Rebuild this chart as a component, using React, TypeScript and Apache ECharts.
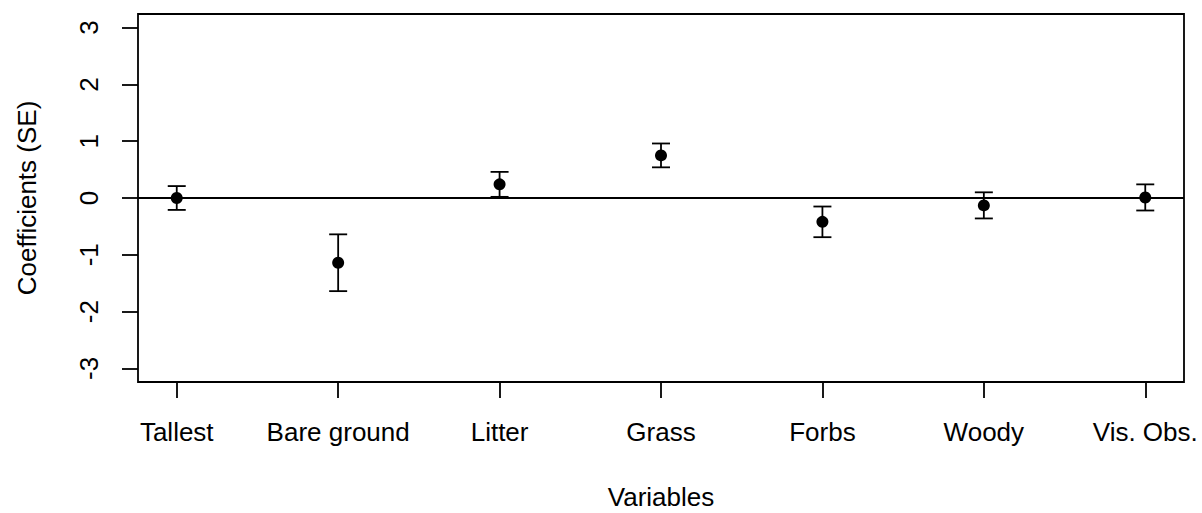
import React, { useEffect, useRef } from "react";
import * as echarts from "echarts";

// Model terms, their coefficient estimates and standard errors
const categories: string[] = ["Tallest", "Bare ground", "Litter", "Grass", "Forbs", "Woody", "Vis. Obs."];
const estimates: number[] = [0, -1.14, 0.24, 0.75, -0.42, -0.13, 0.01];
const standardErrors: number[] = [0.21, 0.5, 0.22, 0.21, 0.27, 0.23, 0.23];
const yTicks: number[] = [-3, -2, -1, 0, 1, 2, 3];

const FONT = "'Liberation Sans', Arial, sans-serif";
const LINE_W = 1.8;

export default function App() {
  const ref = useRef<HTMLDivElement>(null);

  useEffect(() => {
    if (!ref.current) return;
    const chart = echarts.init(ref.current, undefined, { renderer: "svg" });

    const positions = categories.map((_, i) => i + 1);
    const pointData = positions.map((x, i) => [x, estimates[i]]);
    const barData = positions.map((x, i) => [x, estimates[i] - standardErrors[i], estimates[i] + standardErrors[i]]);

    chart.setOption({
      animation: false,
      backgroundColor: "#ffffff",
      grid: {
        left: 138,
        right: 18,
        top: 14,
        bottom: 131,
        show: true,
        borderColor: "#000",
        borderWidth: LINE_W,
        backgroundColor: "transparent",
      },
      xAxis: {
        type: "value",
        min: 0.76,
        max: 7.24,
        splitLine: { show: false },
        axisLine: { show: false, onZero: false },
        axisTick: {
          show: true,
          customValues: positions,
          length: 16,
          lineStyle: { color: "#000", width: LINE_W },
        },
        axisLabel: {
          show: true,
          customValues: positions,
          margin: 37,
          fontSize: 26,
          fontFamily: FONT,
          color: "#000",
          formatter: (v: number) => categories[Math.round(v) - 1] ?? "",
        },
      },
      yAxis: {
        type: "value",
        min: -3.24,
        max: 3.24,
        splitLine: { show: false },
        axisLine: { show: false, onZero: false },
        axisTick: {
          show: true,
          customValues: yTicks,
          length: 16,
          lineStyle: { color: "#000", width: LINE_W },
        },
        axisLabel: {
          show: true,
          customValues: yTicks,
          rotate: 90,
          margin: 36,
          fontSize: 26,
          fontFamily: FONT,
          color: "#000",
          formatter: (v: number) => String(Math.round(v)),
        },
      },
      graphic: [
        {
          type: "text",
          x: 661,
          y: 497,
          style: {
            text: "Variables",
            fontSize: 26,
            fontFamily: FONT,
            fill: "#000",
            textAlign: "center",
            textVerticalAlign: "middle",
          },
        },
        {
          type: "text",
          x: 27,
          y: 198,
          rotation: Math.PI / 2,
          style: {
            text: "Coefficients (SE)",
            fontSize: 26,
            fontFamily: FONT,
            fill: "#000",
            textAlign: "center",
            textVerticalAlign: "middle",
          },
        },
      ],
      series: [
        {
          type: "custom",
          name: "SE",
          data: barData,
          clip: false,
          renderItem: (params: any, api: any) => {
            const x = api.value(0);
            const lo = api.coord([x, api.value(1)]);
            const hi = api.coord([x, api.value(2)]);
            const half = 9;
            const style = { stroke: "#000", lineWidth: LINE_W };
            return {
              type: "group",
              children: [
                { type: "line", shape: { x1: lo[0], y1: lo[1], x2: hi[0], y2: hi[1] }, style },
                { type: "line", shape: { x1: lo[0] - half, y1: lo[1], x2: lo[0] + half, y2: lo[1] }, style },
                { type: "line", shape: { x1: hi[0] - half, y1: hi[1], x2: hi[0] + half, y2: hi[1] }, style },
              ],
            };
          },
          z: 2,
        },
        {
          type: "scatter",
          name: "Estimate",
          data: pointData,
          symbol: "circle",
          symbolSize: 12,
          itemStyle: { color: "#000", opacity: 1 },
          z: 3,
          markLine: {
            silent: true,
            symbol: "none",
            label: { show: false },
            lineStyle: { color: "#000", width: LINE_W, type: "solid", opacity: 1 },
            data: [{ yAxis: 0 }],
          },
        },
      ],
    });

    return () => chart.dispose();
  }, []);

  return (
    <div
      ref={ref}
      style={{ position: "fixed", left: 0, top: 0, width: 1202, height: 513, background: "#fff" }}
    />
  );
}
